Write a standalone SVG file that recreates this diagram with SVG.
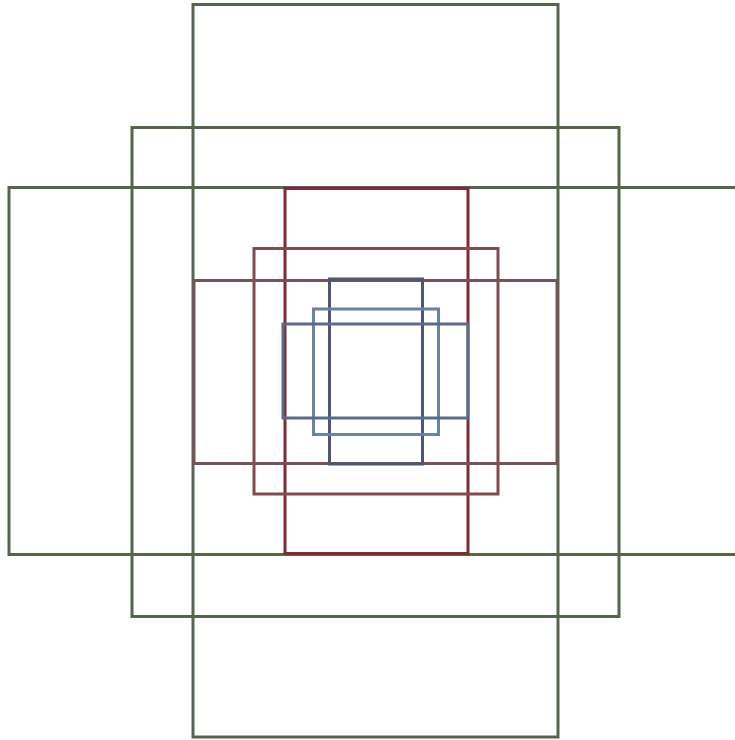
<svg xmlns="http://www.w3.org/2000/svg" width="735" height="740" viewBox="0 0 735 740">
<style>
rect{fill:none;stroke-width:3}
.g{stroke:#56664b}
.r{stroke:#7e2b35}
.b{stroke:#5a6c8e}
</style>
<rect x="0" y="0" width="735" height="740" style="fill:#fff;stroke:none"/>
<g id="green">
<rect id="g-tall" class="g" x="193" y="4.5" width="365" height="732.5"/>
<rect id="g-square" class="g" x="132" y="127.5" width="487" height="489"/>
<rect id="g-wide" class="g" x="9" y="187.5" width="730" height="367"/>
</g>
<g id="red">
<rect id="r-tall" class="r" x="285" y="188.5" width="183" height="365"/>
<rect id="r-square" class="r" x="254" y="248.5" width="244" height="245.5" style="stroke:#834a50"/>
<rect id="r-wide" class="r" x="194" y="280.5" width="363" height="183" style="stroke:#74545a"/>
</g>
<g id="blue">
<rect id="b-tall" class="b" x="329.5" y="279" width="93" height="185" style="stroke:#4d5775"/>
<rect id="b-square" class="b" x="313.5" y="309" width="125" height="125.5" style="stroke:#6a82a6"/>
<rect id="b-wide" class="b" x="283" y="324" width="185" height="94"/>
</g>
</svg>
